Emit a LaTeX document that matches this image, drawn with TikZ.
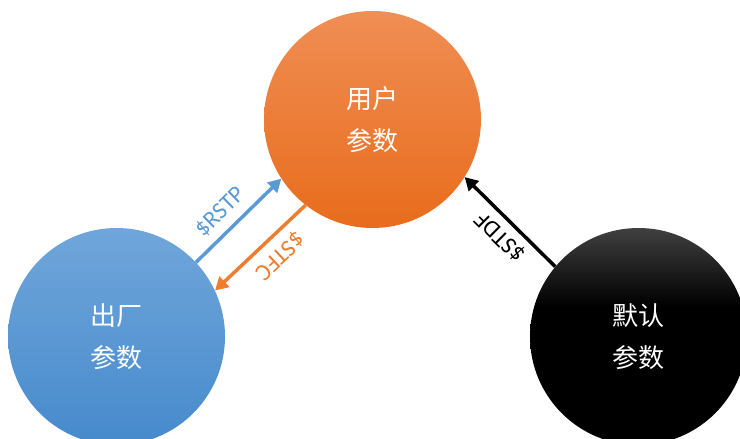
\documentclass[tikz,border=0pt]{standalone}
\usepackage{fontspec}
\setmainfont{Carlito}
\newfontfamily\cjk{Noto Sans CJK SC}
\usetikzlibrary{arrows.meta}
\definecolor{otop}{RGB}{240,142,84}
\definecolor{obot}{RGB}{232,108,28}
\definecolor{btop}{RGB}{112,166,218}
\definecolor{bbot}{RGB}{70,138,204}
\definecolor{ktop}{RGB}{64,64,64}
\definecolor{ublue}{RGB}{91,155,213}
\definecolor{uorange}{RGB}{237,125,49}
\pgfdeclareverticalshading{kshade}{100bp}{color(0bp)=(black); color(25bp)=(black); color(57bp)=(black); color(75bp)=(ktop); color(100bp)=(ktop)}
\begin{document}
\begin{tikzpicture}[x=1pt,y=-1pt,
  bubble/.style={circle, minimum size=217pt, inner sep=0pt, draw=none, text=white,
    font=\cjk\fontsize{26}{42}\selectfont, align=center},
  link/.style={line width=3.5pt, -{Triangle[length=13pt,width=14pt]}},
  lab/.style={font=\fontsize{24}{24}\selectfont, sloped, allow upside down, inner sep=0pt}]
\useasboundingbox (0,0) rectangle (740,439);
\node[bubble, top color=otop, bottom color=obot] (user) at (372.5,119.5) {用户\\参数};
\node[bubble, top color=btop, bottom color=bbot] (fac) at (116.5,336.5) {出厂\\参数};
\node[bubble, shading=kshade] (def) at (638.5,336.5) {默认\\参数};
\draw[link, ublue] (fac.43) -- node[lab, pos=0.44, above=8pt] {\$RSTP} (user.213);
\draw[link, uorange] (user.232) -- node[lab, pos=0.43, above=8pt] {\$STFC} (fac.25);
\draw[link, black] (def.140) -- node[lab, pos=0.47, above=6pt] {\$STDF} (user.-32.6);
\end{tikzpicture}
\end{document}
